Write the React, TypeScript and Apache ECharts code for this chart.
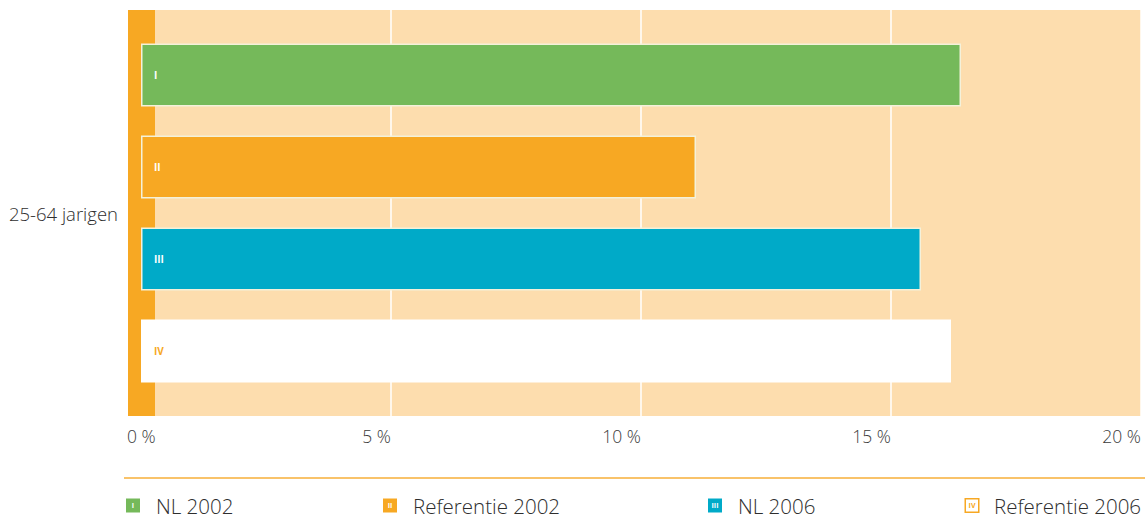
import React, { useEffect, useRef } from "react";
import * as echarts from "echarts";

const categories = ["25-64 jarigen"];
const seriesNames = ["NL 2002", "Referentie 2002", "NL 2006", "Referentie 2006"];
const numerals = ["I", "II", "III", "IV"];
const nl2002 = [16.4];
const ref2002 = [11.1];
const nl2006 = [15.6];
const ref2006 = [16.2];
const xTicks = [0, 5, 10, 15, 20];

const FONT = "'Open Sans', 'Noto Sans', sans-serif";
const colors = ["#75B95A", "#F7A823", "#00AAC8", "#FFFFFF"];
const labelColors = ["#FFFFFF", "#FFFFFF", "#FFFFFF", "#F7A823"];
const legendLeft = [120, 377, 702, 960];

export default function App() {
  const ref = useRef<HTMLDivElement>(null);
  useEffect(() => {
    if (!ref.current) return;
    const chart = echarts.init(ref.current, null, { renderer: "svg" });
    const values = [nl2002, ref2002, nl2006, ref2006];
    const series = seriesNames.map((name, i) => ({
      name,
      type: "bar",
      data: values[i],
      barWidth: 63,
      barGap: "46%",
      z: 2,
      itemStyle: {
        color: colors[i],
        borderColor: i === 3 ? "#FFFFFF" : "#F4F1DA",
        borderWidth: 1.5,
      },
      label: {
        show: true,
        position: "insideLeft",
        distance: 13,
        formatter: numerals[i],
        color: labelColors[i],
        fontSize: 10,
        fontWeight: "bold",
        fontFamily: FONT,
        padding: [4, 0, 0, 0],
      },
    }));
    const legends = seriesNames.map((name, i) => ({
      data: [name],
      left: legendLeft[i],
      top: 495,
      padding: 0,
      itemWidth: 0,
      itemHeight: 0,
      icon: "rect",
      selectedMode: false,
      formatter: (n: string) => `{b|${numerals[i]}}{t|${n}}`,
      textStyle: {
        fontFamily: FONT,
        rich: {
          b: {
            width: i === 3 ? 12 : 14,
            height: i === 3 ? 12 : 14,
            backgroundColor: colors[i],
            borderColor: i === 3 ? "#F7A823" : colors[i],
            borderWidth: i === 3 ? 1.5 : 0,
            color: labelColors[i],
            fontSize: 7,
            fontWeight: "bold",
            align: "center",
            verticalAlign: "middle",
            fontFamily: FONT,
          },
          t: {
            fontSize: 20.5,
            fontWeight: 300,
            color: "#2E2E2E",
            padding: [0, 0, 0, 16],
            verticalAlign: "middle",
            fontFamily: FONT,
          },
        },
      },
    }));
    chart.setOption({
      animation: false,
      grid: { left: 141, right: 6, top: 10, bottom: 104, containLabel: false },
      xAxis: {
        type: "value",
        min: 0,
        max: 20,
        interval: 5,
        axisLine: { show: false },
        axisTick: { show: false },
        splitLine: { show: true, lineStyle: { color: "#FFFFFF", width: 1.5 } },
        axisLabel: {
          formatter: (v: number) => (v === xTicks[0] ? "" : `${v} %`),
          align: "right",
          margin: 11,
          fontSize: 17.5,
          fontWeight: 300,
          color: "#3A3A3A",
          fontFamily: FONT,
        },
      },
      yAxis: {
        type: "category",
        data: categories,
        inverse: true,
        axisLine: { show: false },
        axisTick: { show: false },
        axisLabel: {
          margin: 23,
          fontSize: 18.5,
          fontWeight: 300,
          color: "#2E2E2E",
          fontFamily: FONT,
          padding: [12, 0, 0, 0],
        },
      },
      legend: legends,
      graphic: [
        {
          type: "rect",
          z: -10,
          shape: { x: 128, y: 10, width: 1013, height: 406 },
          style: { fill: "#FDDDAE" },
        },
        {
          type: "rect",
          z: 1,
          shape: { x: 128, y: 10, width: 27, height: 406 },
          style: { fill: "#F7A823" },
        },
        {
          type: "text",
          x: 127,
          y: 427,
          z: 3,
          style: {
            text: `${xTicks[0]} %`,
            fontSize: 17.5,
            fontWeight: 300,
            fill: "#3A3A3A",
            fontFamily: FONT,
          },
        },
        {
          type: "line",
          shape: { x1: 124, y1: 478, x2: 1145, y2: 478 },
          style: { stroke: "#F9C36A", lineWidth: 2 },
        },
      ],
      series,
    });
    return () => chart.dispose();
  }, []);
  return (
    <div
      ref={ref}
      style={{ position: "absolute", left: 0, top: 0, width: 1147, height: 520 }}
    />
  );
}
